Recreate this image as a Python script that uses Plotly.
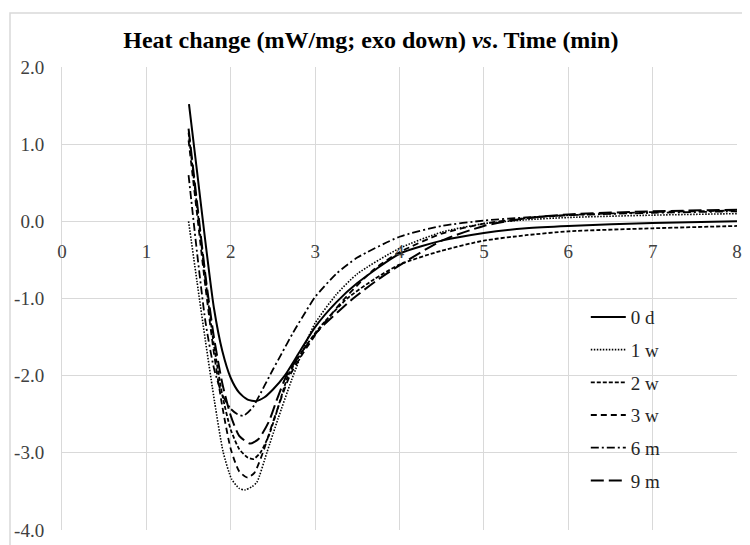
import plotly.graph_objects as go

# ---- data ----
names = ["0 d", "1 w", "2 w", "3 w", "6 m", "9 m"]

x_0d = [1.505, 1.6, 1.7, 1.8, 1.9, 2.0, 2.1, 2.2, 2.3, 2.4, 2.5, 2.64, 2.8, 3.0, 3.25, 3.5, 4.0, 4.5, 5.0, 5.5, 6.0, 7.0, 8.0]
y_0d = [1.52, 0.65, -0.27, -1.12, -1.68, -2.03, -2.22, -2.31, -2.33, -2.28, -2.18, -2.0, -1.72, -1.37, -1.05, -0.8, -0.42, -0.25, -0.15, -0.09, -0.06, -0.02, 0.0]

x_1w = [1.5, 1.6, 1.7, 1.81, 1.91, 2.01, 2.1, 2.17, 2.25, 2.31, 2.43, 2.56, 2.72, 2.9, 3.0, 3.25, 3.5, 4.0, 4.5, 5.0, 5.5, 6.0, 7.0, 8.0]
y_1w = [0.0, -0.78, -1.55, -2.35, -2.99, -3.34, -3.46, -3.48, -3.44, -3.38, -2.99, -2.56, -2.06, -1.55, -1.32, -0.95, -0.68, -0.35, -0.14, -0.03, 0.02, 0.05, 0.08, 0.1]

x_2w = [1.5, 1.6, 1.7, 1.8, 1.9, 2.0, 2.1, 2.2, 2.27, 2.35, 2.45, 2.55, 2.68, 2.85, 3.05, 3.38, 3.7, 4.0, 4.5, 5.0, 5.5, 6.0, 7.0, 8.0]
y_2w = [1.15, 0.2, -0.75, -1.6, -2.25, -2.7, -2.95, -3.06, -3.08, -3.0, -2.78, -2.45, -2.0, -1.68, -1.38, -1.0, -0.75, -0.56, -0.38, -0.25, -0.18, -0.13, -0.09, -0.06]

x_3w = [1.5, 1.6, 1.7, 1.8, 1.9, 2.0, 2.1, 2.2, 2.28, 2.38, 2.5, 2.7, 2.85, 3.05, 3.35, 3.7, 4.0, 4.5, 5.0, 5.5, 6.0, 7.0, 8.0]
y_3w = [1.05, 0.1, -0.85, -1.7, -2.4, -2.95, -3.24, -3.32, -3.26, -3.0, -2.6, -2.0, -1.72, -1.4, -1.0, -0.62, -0.4, -0.16, -0.03, 0.04, 0.08, 0.12, 0.14]

x_6m = [1.5, 1.6, 1.7, 1.8, 1.9, 2.0, 2.08, 2.15, 2.26, 2.4, 2.5, 2.6, 2.74, 2.9, 3.0, 3.25, 3.5, 4.0, 4.5, 5.0, 5.5, 6.0, 7.0, 8.0]
y_6m = [0.6, -0.4, -1.3, -1.9, -2.25, -2.43, -2.5, -2.52, -2.41, -2.13, -1.92, -1.72, -1.44, -1.15, -0.98, -0.68, -0.47, -0.2, -0.06, 0.01, 0.05, 0.08, 0.11, 0.13]

x_9m = [1.5, 1.6, 1.7, 1.8, 1.9, 2.0, 2.1, 2.23, 2.33, 2.45, 2.55, 2.66, 2.85, 3.05, 3.45, 3.75, 4.0, 4.5, 5.0, 5.5, 6.0, 7.0, 8.0]
y_9m = [1.2, 0.25, -0.7, -1.5, -2.1, -2.52, -2.78, -2.88, -2.82, -2.6, -2.3, -2.0, -1.68, -1.4, -1.0, -0.75, -0.57, -0.25, -0.06, 0.04, 0.09, 0.13, 0.15]

x_ticks = [0, 1, 2, 3, 4, 5, 6, 7, 8]
y_ticks = [-4, -3, -2, -1, 0, 1, 2]
y_tick_text = ["-4.0", "-3.0", "-2.0", "-1.0", "0.0", "1.0", "2.0"]

series_x = [x_0d, x_1w, x_2w, x_3w, x_6m, x_9m]
series_y = [y_0d, y_1w, y_2w, y_3w, y_6m, y_9m]
dashes = ["solid", "1.5px,1.5px", "4px,2px", "6px,4px", "8px,3px,2px,3px", "13px,5px"]
widths = [2, 1.6, 1.8, 1.8, 1.8, 2]

FONT = "Liberation Serif"

# the page places the figure 8px in from the top-left corner
W, H = 742, 537
L, R, T, B = 54, 13, 59, 15
PW, PH = W - L - R, H - T - B

fig = go.Figure()
for i, n in enumerate(names):
    fig.add_trace(go.Scatter(
        x=series_x[i], y=series_y[i], name=n, mode="lines",
        line=dict(color="black", width=widths[i], dash=dashes[i], shape="spline", smoothing=0.6),
        legendgroup=n,
    ))

fig.update_layout(
    width=W, height=H,
    margin=dict(l=L, r=R, t=T, b=B, autoexpand=False),
    paper_bgcolor="white", plot_bgcolor="white",
    title=dict(
        text="<b>Heat change (mW/mg; exo down) <i>vs</i>. Time (min)</b>",
        x=0.489, xanchor="center", y=0.942, yanchor="middle",
        font=dict(family=FONT, size=24, color="black"),
    ),
    font=dict(family=FONT, color="#404040"),
    showlegend=True,
    legend=dict(
        x=0.776, y=0.501, xanchor="left", yanchor="top",
        bgcolor="rgba(0,0,0,0)",
        font=dict(family=FONT, size=19, color="#262626"),
        itemwidth=35, tracegroupgap=5, traceorder="grouped",
    ),
    xaxis=dict(
        range=[0, 8], tickvals=x_ticks, ticktext=[str(v) for v in x_ticks],
        showgrid=True, gridcolor="#d9d9d9", gridwidth=1,
        zeroline=False, showline=False, ticks="",
        anchor="free", position=4 / 6, automargin=False,
        tickfont=dict(family=FONT, size=19, color="#404040"),
        ticklabelstandoff=17,
    ),
    yaxis=dict(
        range=[-4, 2], tickvals=y_ticks, ticktext=y_tick_text,
        showgrid=True, gridcolor="#d9d9d9", gridwidth=1,
        zeroline=False, showline=True, linecolor="#d9d9d9", linewidth=1,
        ticks="", automargin=False,
        tickfont=dict(family=FONT, size=19, color="#404040"),
        ticklabelstandoff=13,
    ),
    shapes=[dict(
        type="rect", xref="paper", yref="paper",
        x0=(2 - L) / PW, x1=(W + 2 - L) / PW,
        y0=(T + PH - H - 3) / PH, y1=(T + PH - 5) / PH,
        line=dict(color="#d9d9d9", width=1.5), layer="below",
    )],
)

fig.write_html("out.html")
